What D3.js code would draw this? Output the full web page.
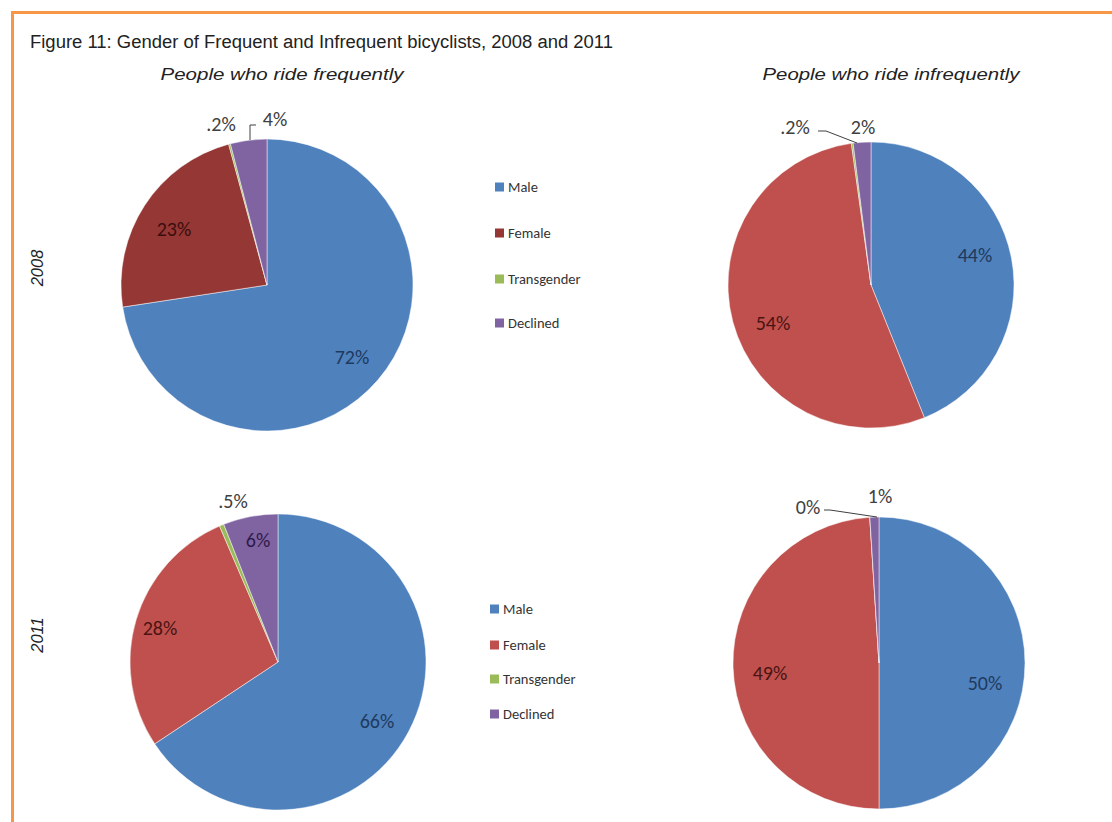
<!DOCTYPE html>
<html><head><meta charset="utf-8">
<script src="https://cdn.jsdelivr.net/npm/d3@7"></script>
<style>body{margin:0;background:#fff}svg{display:block}</style>
</head><body>
<svg id="c" width="1112" height="822"></svg>
<script>
const categories = ["Male", "Female", "Transgender", "Declined"];
const freq2008 = [72, 23, 0.2, 4];
const infreq2008 = [44, 54, 0.2, 2];
const freq2011 = [66, 28, 0.5, 6];
const infreq2011 = [50, 49, 0, 1];
const labels2008f = ["72%", "23%", ".2%", "4%"];
const labels2008i = ["44%", "54%", ".2%", "2%"];
const labels2011f = ["66%", "28%", ".5%", "6%"];
const labels2011i = ["50%", "49%", "0%", "1%"];
const years = ["2008", "2011"];
const columnTitles = ["People who ride frequently", "People who ride infrequently"];
const title = "Figure 11: Gender of Frequent and Infrequent bicyclists, 2008 and 2011";

const svg = d3.select("#c");
const labelFont = "Carlito, 'Open Sans', 'Noto Sans', sans-serif";
const narrow = "'Liberation Sans Narrow', 'Arial Narrow', 'Liberation Sans', Arial, sans-serif";

// border
svg.append("path").attr("d", "M12.5,822 L12.5,12.5 L1112,12.5")
  .attr("fill", "none").attr("stroke", "#F79646").attr("stroke-width", 3);

svg.append("text").attr("x", 30).attr("y", 48).text(title)
  .attr("font-family", narrow).attr("font-size", 18)
  .attr("textLength", 583).attr("lengthAdjust", "spacingAndGlyphs").attr("fill", "#222");

const colX = [282, 891];
const colW = [243, 257];
columnTitles.forEach((t, i) => svg.append("text").attr("x", colX[i]).attr("y", 80)
  .attr("text-anchor", "middle").attr("font-style", "italic")
  .attr("textLength", colW[i]).attr("lengthAdjust", "spacingAndGlyphs")
  .attr("font-family", "'Liberation Sans', Arial, sans-serif").attr("font-size", 16.5).attr("fill", "#222").text(t));

const yearY = [268, 635];
years.forEach((y, i) => svg.append("text").attr("transform", `translate(43,${yearY[i]}) rotate(-90)`)
  .attr("text-anchor", "middle").attr("font-style", "italic")
  .attr("font-family", "'Liberation Sans', Arial, sans-serif").attr("font-size", 16.5).attr("fill", "#222").text(y));

const panels = [
  {vals: freq2008, labs: labels2008f, cx: 267, cy: 285, r: 146,
   colors: ["#4F81BD", "#953735", "#9BBB59", "#8064A2"],
   pos: [[352, 357, "#1F3A5F"], [174, 229, "#3B0E0D"], [221, 124, "#404040"], [275, 119, "#404040"]],
   leaders: [[[250, 140], [250, 125], [256, 125]]]},
  {vals: infreq2008, labs: labels2008i, cx: 871, cy: 285, r: 143,
   colors: ["#4F81BD", "#C0504D", "#9BBB59", "#8064A2"],
   pos: [[975, 255, "#1F3A5F"], [773, 323, "#4A1413"], [795, 127, "#404040"], [863, 127, "#404040"]],
   leaders: [[[818, 131], [826, 131], [857, 143]]]},
  {vals: freq2011, labs: labels2011f, cx: 278, cy: 662, r: 148,
   colors: ["#4F81BD", "#C0504D", "#9BBB59", "#8064A2"],
   pos: [[377, 721, "#1F3A5F"], [160, 628, "#4A1413"], [233, 501, "#404040"], [258, 540, "#2E1A4A"]],
   leaders: []},
  {vals: infreq2011, labs: labels2011i, cx: 879, cy: 663, r: 146,
   colors: ["#4F81BD", "#C0504D", "#9BBB59", "#8064A2"],
   pos: [[985, 683, "#1F3A5F"], [770, 673, "#4A1413"], [808, 507, "#404040"], [880, 496, "#404040"]],
   leaders: [[[824, 510], [830, 510], [877, 517]]]}
];

const pie = d3.pie().sort(null).value(d => d);
panels.forEach(p => {
  const g = svg.append("g").attr("transform", `translate(${p.cx},${p.cy})`);
  const arc = d3.arc().innerRadius(0).outerRadius(p.r);
  g.selectAll("path").data(pie(p.vals)).join("path")
    .attr("d", arc).attr("fill", (d, i) => p.colors[i])
    .attr("stroke", "#fff").attr("stroke-width", 0.8).attr("stroke-opacity", 0.6);
  p.leaders.forEach(l => svg.append("path").attr("d", d3.line()(l))
    .attr("fill", "none").attr("stroke", "#404040").attr("stroke-width", 1));
  p.labs.forEach((t, i) => svg.append("text").attr("x", p.pos[i][0]).attr("y", p.pos[i][1])
    .attr("text-anchor", "middle").attr("dominant-baseline", "central")
    .attr("font-family", labelFont).attr("font-size", 20).attr("fill", p.pos[i][2]).text(t));
});

const legends = [
  {x: 495, ys: [187, 233, 279, 323], colors: ["#4F81BD", "#953735", "#9BBB59", "#8064A2"]},
  {x: 490, ys: [609, 645, 679, 714], colors: ["#4F81BD", "#C0504D", "#9BBB59", "#8064A2"]}
];
legends.forEach(L => {
  categories.forEach((c, i) => {
    svg.append("rect").attr("x", L.x).attr("y", L.ys[i] - 4.5).attr("width", 9).attr("height", 9).attr("fill", L.colors[i]);
    svg.append("text").attr("x", L.x + 13).attr("y", L.ys[i]).attr("dominant-baseline", "central")
      .attr("font-family", labelFont).attr("font-size", 14.5).attr("fill", "#333").text(c);
  });
});
</script>
</body></html>
